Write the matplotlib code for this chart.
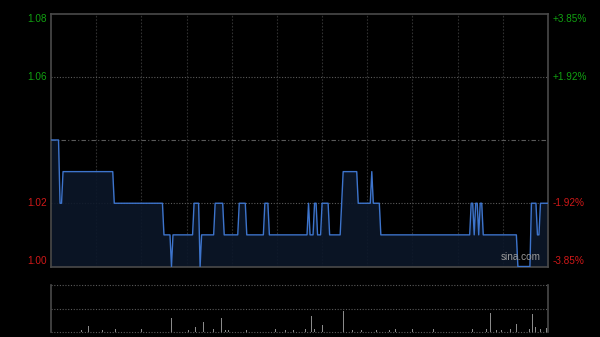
import numpy as np
import matplotlib
matplotlib.use("Agg")
import matplotlib.pyplot as plt

# HK intraday chart, 330 trading minutes (9:30-12:00, 13:00-16:00)
prev_close = 1.04
total_minutes = 331

# minute where the price changes and the new price
change_minutes = [0, 6, 8, 42, 75, 80, 81, 95, 99, 100, 109, 115, 125, 130,
                  142, 145, 171, 172, 175, 177, 180, 185, 193, 194, 204, 213,
                  214, 219, 279, 281, 282, 284, 285, 287, 310, 319, 323, 325]
change_prices = [1.04, 1.02, 1.03, 1.02, 1.01, 1.00, 1.01, 1.02, 1.00, 1.01,
                 1.02, 1.01, 1.02, 1.01, 1.02, 1.01, 1.02, 1.01, 1.02, 1.01,
                 1.02, 1.01, 1.02, 1.03, 1.02, 1.03, 1.02, 1.01, 1.02, 1.01,
                 1.02, 1.01, 1.02, 1.01, 1.00, 1.02, 1.01, 1.02]

# volume bars (minute, relative volume)
vol_minutes = [20, 25, 34, 43, 60, 75, 80, 83, 91, 96, 101, 108, 113, 116,
               118, 130, 149, 156, 161, 169, 173, 175, 180, 194, 200, 206,
               216, 225, 229, 240, 249, 254, 280, 289, 292, 296, 299, 305,
               309, 318, 320, 322, 324, 325, 329]
vol_values = [2, 6, 2, 3, 3, 47, 14, 23, 2, 5, 10, 3, 14, 2,
              2, 2, 3, 2, 2, 3, 16, 3, 7, 21, 2, 2,
              2, 2, 3, 3, 3, 3, 3, 3, 19, 2, 2, 3,
              8, 3, 18, 5, 11, 3, 4]

price_ticks = [1.00, 1.02, 1.06, 1.08]
pct_labels = ['-3.85%', '-1.92%', '+1.92%', '+3.85%']

runs = np.diff(change_minutes + [total_minutes])
prices = np.repeat(change_prices, runs)
minutes = np.arange(total_minutes)

green = '#11a011'
red = '#d01818'
frame = '#4a4a4a'

fig = plt.figure(figsize=(6, 3.37), dpi=100, facecolor='black')
ax = fig.add_axes([51 / 600, 1 - 266.5 / 337, 497 / 600, 253 / 337])
vax = fig.add_axes([51 / 600, 1 - 332 / 337, 497 / 600, 47 / 337])

# price panel
ax.set_facecolor('black')
ax.set_xlim(0, 330)
ax.set_ylim(1.00, 1.08)
for x in range(30, 330, 30):
    ax.axvline(x, color='#303030', lw=0.8, ls=(0, (1.5, 1.5)), zorder=1)
for y in [1.02, 1.06]:
    ax.axhline(y, color='#5a5a5a', lw=0.8, ls=(0, (1, 1.5)), zorder=1)
ax.axhline(prev_close, color='#5a5a5a', lw=0.8, ls=(0, (4, 2, 1, 2)), zorder=1)

ax.fill_between(minutes, prices, 1.00, color='#0c1729', alpha=0.9, zorder=2, lw=0)
ax.plot(minutes, prices, color='#3d74cc', lw=1.0, zorder=3)

ax.set_xticks([])
ax.set_yticks([])
for s in ax.spines.values():
    s.set_color(frame)
    s.set_linewidth(1.2)

trans = ax.get_yaxis_transform()
for p, lab in zip(price_ticks, pct_labels):
    c = green if p > prev_close else red
    va = 'top' if p == 1.08 else ('bottom' if p == 1.00 else 'center')
    ax.text(-0.009, p, f'{p:.2f}', transform=trans, ha='right', va=va,
            color=c, fontsize=7.2, family='Liberation Sans')
    ax.text(1.009, p, lab, transform=trans, ha='left', va=va,
            color=c, fontsize=7.2, family='Liberation Sans')

ax.text(0.945, 0.018, 'sina.com', transform=ax.transAxes, ha='center',
        va='bottom', color='#9a9a9a', fontsize=7.2, family='Liberation Sans',
        zorder=5)

# volume panel
vax.set_facecolor('black')
vax.set_xlim(0, 330)
vax.set_ylim(0, 47)
vax.bar(vol_minutes, vol_values, width=0.6, color='#8a8a8a', zorder=3)
for y in [47, 23.5, 0]:
    vax.axhline(y, color='#5a5a5a', lw=0.8, ls=(0, (1, 1.5)), zorder=1,
                clip_on=False)
vax.set_xticks([])
vax.set_yticks([])
vax.spines['top'].set_visible(False)
vax.spines['bottom'].set_visible(False)
for side in ['left', 'right']:
    vax.spines[side].set_color(frame)
    vax.spines[side].set_linewidth(1.2)

fig.savefig('out.png', dpi=100, facecolor='black')
